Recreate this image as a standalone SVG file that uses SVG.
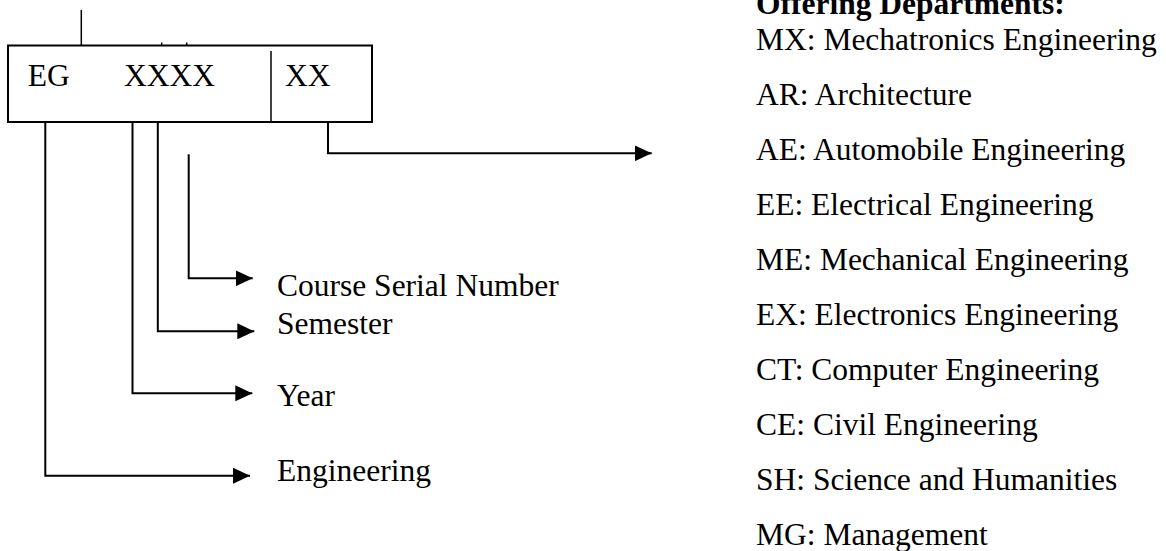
<svg xmlns="http://www.w3.org/2000/svg" width="1166" height="551" viewBox="0 0 1166 551">
<style>
text { font-family: "Liberation Serif", "Times New Roman", serif; font-size: 31.5px; fill: #000; }
.b { font-weight: bold; }
.ln { fill: none; stroke: #000; stroke-width: 2; }
.thin { fill: none; stroke: #000; stroke-width: 1.5; }
</style>
<defs>
<marker id="ah" markerUnits="userSpaceOnUse" markerWidth="17" markerHeight="16" refX="17" refY="8" orient="auto">
<path d="M0,0 L17,8 L0,16 z" fill="#000"/>
</marker>
</defs>
<rect width="1166" height="551" fill="#fff"/>
<g id="code-box">
<rect x="8" y="45.5" width="364" height="76.5" class="ln"/>
<line x1="271" y1="51" x2="271" y2="122" class="thin"/>
<line x1="81.3" y1="10" x2="81.3" y2="45.5" class="thin"/>
<line x1="161.7" y1="42.5" x2="161.7" y2="45.5" class="thin"/>
<line x1="186.7" y1="42.5" x2="186.7" y2="45.5" class="thin"/>
<text x="27.7" y="86">EG</text>
<text x="124" y="86">XXXX</text>
<text x="285" y="86">XX</text>
</g>
<g id="connectors">
<polyline points="45.3,122 45.3,475.7 250,475.7" class="ln" marker-end="url(#ah)"/>
<polyline points="132.5,122 132.5,393.3 252.3,393.3" class="ln" marker-end="url(#ah)"/>
<polyline points="157.8,122 157.8,331.3 254.3,331.3" class="ln" marker-end="url(#ah)"/>
<polyline points="188.7,154.3 188.7,278.3 252.7,278.3" class="ln" marker-end="url(#ah)"/>
<polyline points="328,122 328,153.3 651.7,153.3" class="ln" marker-end="url(#ah)"/>
</g>
<g id="label-course"><text x="277" y="296">Course Serial Number</text></g>
<g id="label-semester"><text x="277" y="334">Semester</text></g>
<g id="label-year"><text x="277" y="406">Year</text></g>
<g id="label-engineering"><text x="277" y="481">Engineering</text></g>
<g id="departments">
<text x="756" y="14" class="b">Offering Departments:</text>
<text x="756" y="50">MX: Mechatronics Engineering</text>
<text x="756" y="105">AR: Architecture</text>
<text x="756" y="160">AE: Automobile Engineering</text>
<text x="756" y="215">EE: Electrical Engineering</text>
<text x="756" y="270">ME: Mechanical Engineering</text>
<text x="756" y="325">EX: Electronics Engineering</text>
<text x="756" y="380">CT: Computer Engineering</text>
<text x="756" y="435">CE: Civil Engineering</text>
<text x="756" y="490">SH: Science and Humanities</text>
<text x="756" y="545">MG: Management</text>
</g>
</svg>
